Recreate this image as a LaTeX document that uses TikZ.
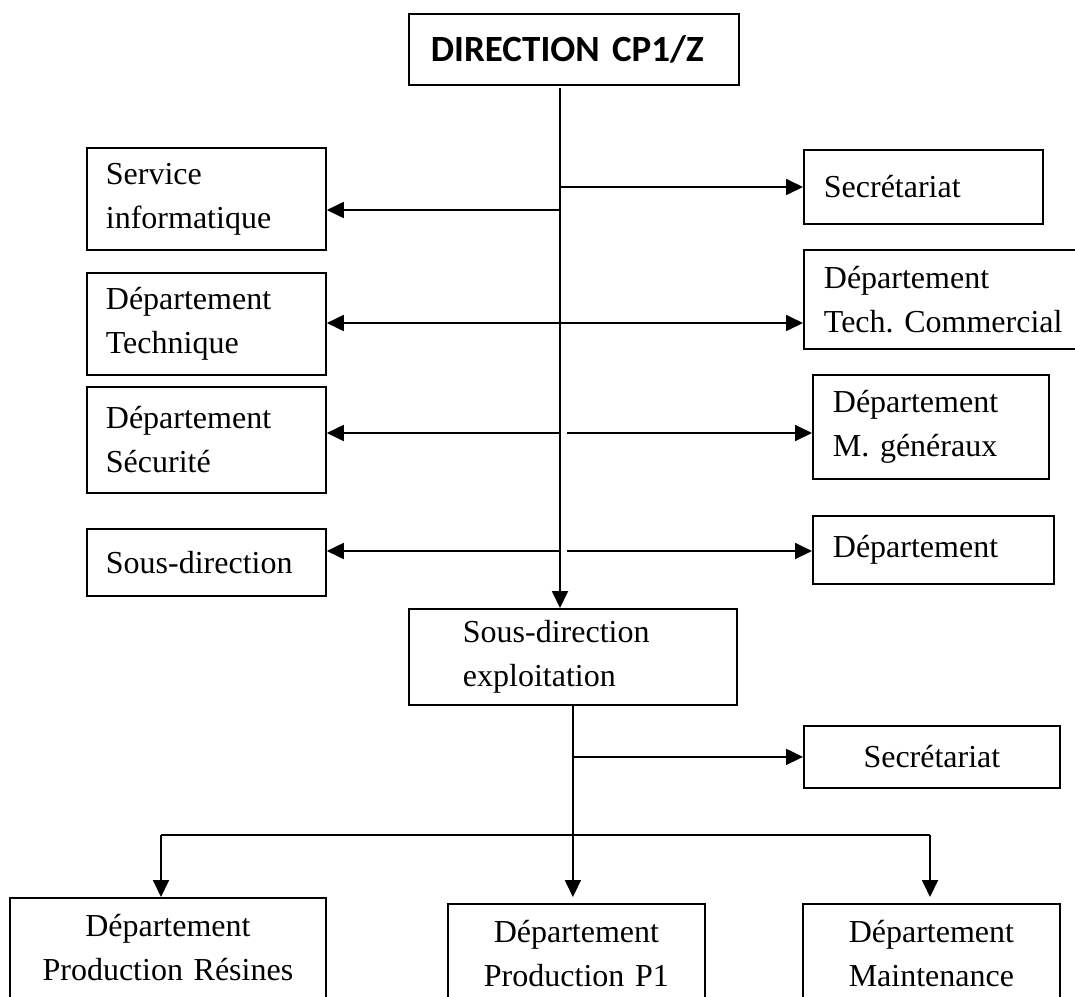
\documentclass[tikz,border=0pt]{standalone}
\usepackage{fontspec}
\setmainfont{Liberation Serif}
\newfontfamily\calibfont{Carlito}
\usetikzlibrary{arrows.meta}
\frenchspacing
\begin{document}
\begin{tikzpicture}[x=1pt,y=-1pt,
  box/.style={draw, line width=1.8pt, anchor=north west, inner ysep=0pt, align=left,
              font=\fontsize{32}{44}\selectfont\frenchspacing},
  cbox/.style={box, align=center},
  conn/.style={line width=1.8pt, line join=miter},
  arr/.style={conn, -{Triangle[length=17pt,width=16pt]}}]
\useasboundingbox (0,0) rectangle (1075,996);
\clip (0,0) rectangle (1075,996);
\fill[white] (0,0) rectangle (1075,996);

% top
\node[box, font=\calibfont\bfseries\fontsize{37}{44}\selectfont, text width=286pt, inner xsep=22pt, minimum height=71pt] (dir) at (408,13) {DIRECTION CP1/Z};

% left column
\node[box, text width=201pt, inner xsep=19pt, minimum height=102pt] (si) at (86,147) {Service\\informatique};
\node[box, text width=201pt, inner xsep=19pt, minimum height=102pt] (dt) at (86,272) {Département\\Technique};
\node[box, text width=201pt, inner xsep=19pt, minimum height=106pt] (ds) at (86,386) {Département\\Sécurité};
\node[box, text width=201pt, inner xsep=19pt, minimum height=67pt] (sd) at (86,528) {Sous-direction};

% right column
\node[box, text width=199pt, inner xsep=20pt, minimum height=74pt] (sec1) at (803,149) {Secrétariat};
\node[box, text width=262pt, inner xsep=20pt, minimum height=99pt] (dtc) at (803,249) {Département\\Tech. Commercial};
\node[box, text width=196pt, inner xsep=20pt, minimum height=104pt] (dmg) at (812,374) {Département\\M. généraux};
\node[box, text width=201pt, inner xsep=20pt, minimum height=68pt] (dep) at (812,515) {Département};

% middle
\node[box, text width=220pt, inner xsep=54pt, minimum height=96pt] (sde) at (408,608) {Sous-direction\\exploitation};
\node[cbox, text width=216pt, inner xsep=20pt, minimum height=62pt] (sec2) at (803,725) {Secrétariat};

% bottom
\node[cbox, text width=276pt, inner xsep=20pt, minimum height=100pt] (bpr) at (9,897) {Département\\Production Résines};
\node[cbox, text width=217pt, inner xsep=20pt, minimum height=100pt] (bp1) at (447,903) {Département\\Production P1};
\node[cbox, text width=217pt, inner xsep=20pt, minimum height=100pt] (bm) at (802,903) {Département\\Maintenance};

% upper connectors
\coordinate (top) at (560,88);
\coordinate (r0) at (560,187);
\coordinate (r1) at (560,210);
\coordinate (r2) at (560,323);
\coordinate (r3) at (560,433);
\coordinate (r4) at (560,551);
\draw[arr] (top) -- (top |- sde.north);
\draw[arr] (r0) -- (r0 -| sec1.west);
\draw[arr] (r1) -- (r1 -| si.east);
\draw[arr] (r2) -- (r2 -| dt.east);
\draw[arr] (r2) -- (r2 -| dtc.west);
\draw[arr] (r3) -- (r3 -| ds.east);
\draw[arr] ([xshift=7pt]r3) -- (r3 -| dmg.west);
\draw[arr] (r4) -- (r4 -| sd.east);
\draw[arr] ([xshift=7pt]r4) -- (r4 -| dep.west);

% lower connectors
\coordinate (bl) at (161,835);
\coordinate (br) at (930,835);
\draw[arr] (sde.south) -- (sde.south |- bpr.north);
\draw[arr] (sde.south |- sec2.west) -- (sec2.west);
\draw[conn] (bl) -- (br);
\draw[arr] (bl) -- (bl |- bpr.north);
\draw[arr] (br) -- (br |- bpr.north);
\end{tikzpicture}
\end{document}
